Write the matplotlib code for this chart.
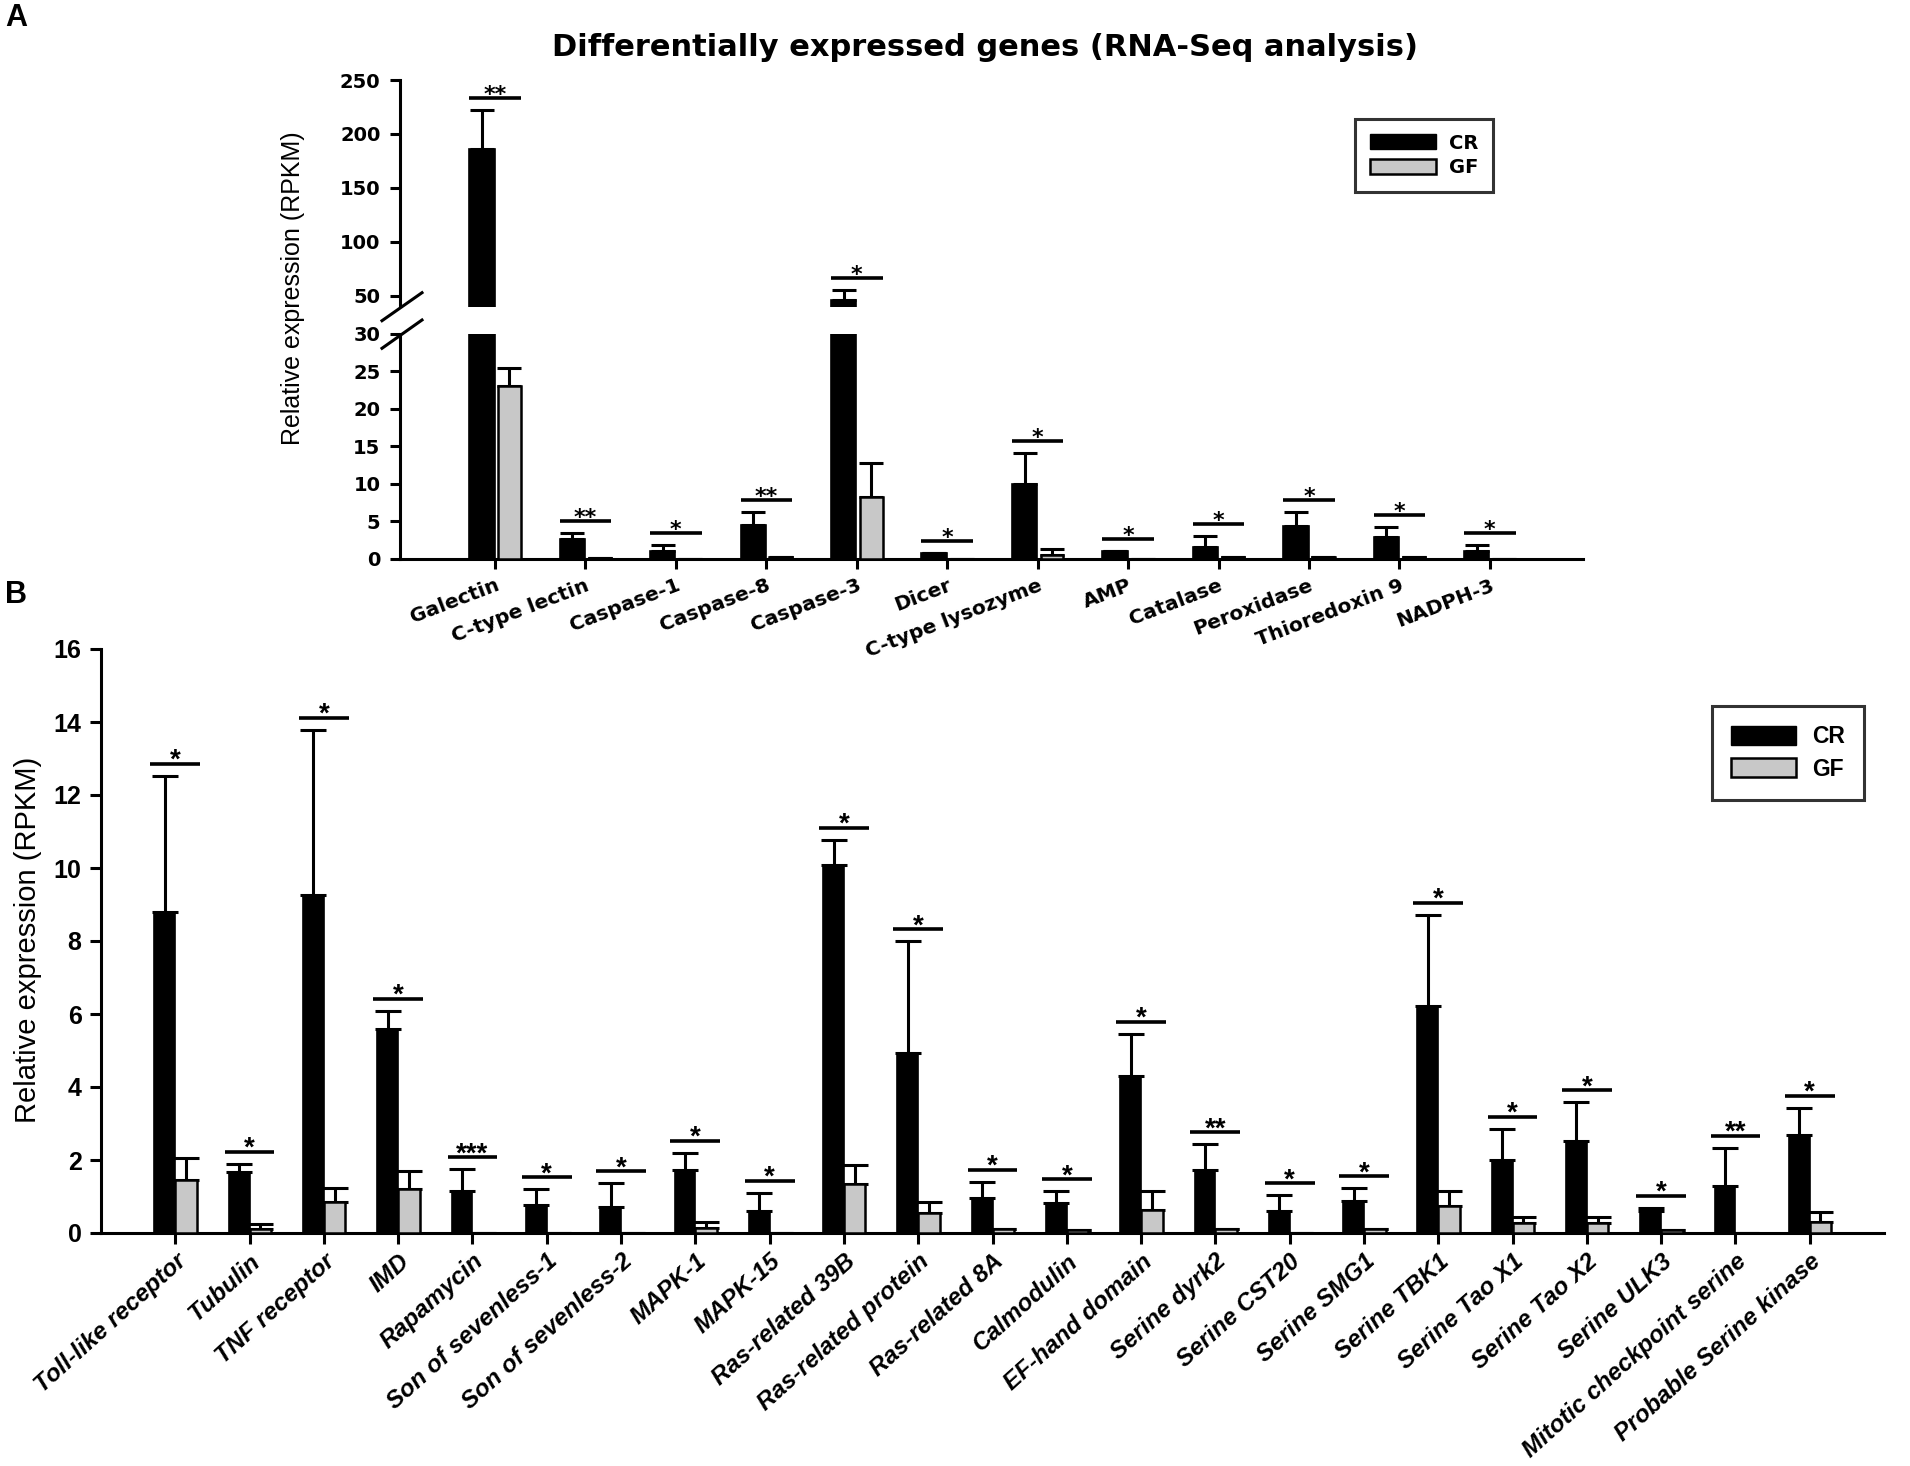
import numpy as np
import matplotlib.pyplot as plt
from matplotlib.lines import Line2D
from matplotlib.patches import Patch
from matplotlib import transforms

# Panel A data (RNA-Seq, RPKM)
genes_a = ['Galectin', 'C-type lectin', 'Caspase-1', 'Caspase-8', 'Caspase-3', 'Dicer',
           'C-type lysozyme', 'AMP', 'Catalase', 'Peroxidase', 'Thioredoxin 9', 'NADPH-3']
cr_a = [186, 2.6, 1.0, 4.5, 46, 0.8, 10.0, 1.0, 1.6, 4.4, 2.9, 1.1]
cr_err_a = [36, 0.9, 0.8, 1.7, 9, 0.0, 4.1, 0.0, 1.4, 1.8, 1.4, 0.7]
gf_a = [23.0, 0.1, 0.05, 0.2, 8.2, 0.03, 0.5, 0.0, 0.2, 0.3, 0.2, 0.05]
gf_err_a = [2.5, 0.0, 0.0, 0.0, 4.6, 0.0, 0.8, 0.0, 0.0, 0.0, 0.0, 0.0]
sig_a = ['**', '**', '*', '**', '*', '*', '*', '*', '*', '*', '*', '*']

# Panel B data
genes_b = ['Toll-like receptor', 'Tubulin', 'TNF receptor', 'IMD', 'Rapamycin',
           'Son of sevenless-1', 'Son of sevenless-2', 'MAPK-1', 'MAPK-15',
           'Ras-related 39B', 'Ras-related protein', 'Ras-related 8A', 'Calmodulin',
           'EF-hand domain', 'Serine dyrk2', 'Serine CST20', 'Serine SMG1', 'Serine TBK1',
           'Serine Tao X1', 'Serine Tao X2', 'Serine ULK3', 'Mitotic checkpoint serine',
           'Probable Serine kinase']
cr_b = [8.80, 1.67, 9.26, 5.59, 1.14, 0.78, 0.70, 1.72, 0.60, 10.09, 4.94, 0.97,
        0.83, 4.30, 1.73, 0.60, 0.88, 6.23, 2.01, 2.51, 0.60, 1.30, 2.68]
cr_err_b = [3.73, 0.23, 4.52, 0.49, 0.60, 0.42, 0.66, 0.47, 0.50, 0.69, 3.05, 0.43,
            0.31, 1.15, 0.70, 0.43, 0.34, 2.48, 0.84, 1.07, 0.09, 1.03, 0.75]
gf_b = [1.45, 0.10, 0.86, 1.20, 0.0, 0.0, 0.0, 0.15, 0.0, 1.33, 0.55, 0.12,
        0.08, 0.64, 0.12, 0.0, 0.10, 0.73, 0.27, 0.27, 0.08, 0.0, 0.30]
gf_err_b = [0.61, 0.15, 0.37, 0.50, 0.0, 0.0, 0.0, 0.15, 0.0, 0.52, 0.30, 0.0,
            0.0, 0.52, 0.0, 0.0, 0.0, 0.43, 0.18, 0.18, 0.0, 0.0, 0.28]
sig_b = ['*', '*', '*', '*', '***', '*', '*', '*', '*', '*', '*', '*', '*', '*',
         '**', '*', '*', '*', '*', '*', '*', '**', '*']

W, H = 1910, 1466
fig = plt.figure(figsize=(W / 100, H / 100), dpi=100)


def box(x0, y0, x1, y1):
    # pixel box (top-left origin) -> figure fraction rect
    return [x0 / W, 1 - y1 / H, (x1 - x0) / W, (y1 - y0) / H]


GREY = '#c8c8c8'
LW = 2.2
ARIAL = 'Liberation Sans'
WIDE = 'DejaVu Sans'


def draw_bars(ax, x, cr, cre, gf, gfe, cr_off, cr_w, gf_off, gf_w, cap):
    ax.bar(x + cr_off, cr, width=cr_w, align='edge', color='black', edgecolor='black',
           linewidth=1.2, zorder=3)
    ax.bar(x + gf_off, gf, width=gf_w, align='edge', color=GREY, edgecolor='black',
           linewidth=1.8, zorder=3)
    zeros = np.zeros(len(x))
    ax.errorbar(x + cr_off + cr_w / 2, cr, yerr=[zeros, cre], fmt='none', ecolor='black',
                elinewidth=LW, capsize=cap, capthick=LW, zorder=2)
    ax.errorbar(x + gf_off + gf_w / 2, gf, yerr=[zeros, gfe], fmt='none', ecolor='black',
                elinewidth=LW, capsize=cap, capthick=LW, zorder=2)


def draw_sig(ax, xc, top, label, half, star_font, star_size, star_drop):
    line_tr = transforms.offset_copy(ax.transData, fig=fig, y=12, units='dots')
    ax.plot([xc - half, xc + half], [top, top], color='black', lw=LW + 0.4,
            transform=line_tr, clip_on=False, solid_capstyle='butt')
    txt_tr = transforms.offset_copy(ax.transData, fig=fig, y=12 - star_drop, units='dots')
    ax.text(xc, top, label, ha='center', va='baseline', fontsize=star_size,
            fontweight='bold', family=star_font, transform=txt_tr, clip_on=False)


# ---------------- Panel A (broken axis) ----------------
xa = np.arange(len(genes_a))
ax_lo = fig.add_axes(box(400, 334, 1583, 559))
ax_hi = fig.add_axes(box(400, 80, 1583, 306.5))

for ax in (ax_lo, ax_hi):
    ax.patch.set_visible(False)
    draw_bars(ax, xa, np.array(cr_a), np.array(cr_err_a), np.array(gf_a),
              np.array(gf_err_a), -0.285, 0.28, 0.035, 0.25, 8.3)
    ax.set_xlim(-1.05, len(genes_a) - 1 + 1.03)
    ax.spines['top'].set_visible(False)
    ax.spines['right'].set_visible(False)
    ax.spines['left'].set_linewidth(LW)
    ax.spines['bottom'].set_linewidth(LW)
    ax.tick_params(axis='y', direction='out', length=7, width=LW, pad=7)

ax_lo.set_ylim(0, 30)
ax_lo.set_yticks(np.arange(0, 31, 5))
ax_hi.set_ylim(40, 250)
ax_hi.set_yticks(np.arange(50, 251, 50))
for ax in (ax_lo, ax_hi):
    ax.set_yticklabels([str(v) for v in ax.get_yticks().astype(int)],
                       family=WIDE, fontweight='bold', fontsize=14)
ax_hi.spines['bottom'].set_visible(False)
ax_hi.set_xticks([])
ax_lo.set_xticks(xa)
ax_lo.tick_params(axis='x', direction='out', length=7, width=LW, pad=5)
ax_lo.set_xticklabels(genes_a, rotation=21, ha='right', va='top', rotation_mode='anchor',
                      family=WIDE, fontweight='bold', fontsize=14.5)

for i in range(len(genes_a)):
    top = max(cr_a[i] + cr_err_a[i], gf_a[i] + gf_err_a[i])
    ax = ax_hi if top > 30 else ax_lo
    draw_sig(ax, xa[i], top, sig_a[i], 0.285, WIDE, 16, 3)

# break marks on the y axis
for y0, y1 in ((320.7, 292.7), (348.3, 320.0)):
    fig.add_artist(Line2D([382 / W, 422 / W], [1 - y0 / H, 1 - y1 / H], color='black',
                          lw=LW, transform=fig.transFigure))

fig.text(293 / W, 1 - 288 / H, 'Relative expression (RPKM)', rotation=90, ha='center',
         va='center', family=ARIAL, fontsize=18)
fig.text(985 / W, 1 - 48 / H, 'Differentially expressed genes (RNA-Seq analysis)',
         ha='center', va='center', family=WIDE, fontweight='bold', fontsize=22)

handles = [Patch(facecolor='black', edgecolor='black', label='CR'),
           Patch(facecolor=GREY, edgecolor='black', linewidth=1.8, label='GF')]
leg_a = fig.legend(handles=handles, loc='upper left', bbox_to_anchor=(1355 / W, 1 - 119 / H),
                   borderaxespad=0, frameon=True, fancybox=False, edgecolor='black',
                   handlelength=3.4, handleheight=0.8, borderpad=0.75, labelspacing=0.3,
                   handletextpad=0.7, prop={'family': WIDE, 'weight': 'bold', 'size': 14})
leg_a.get_frame().set_linewidth(LW)

# ---------------- Panel B ----------------
xb = np.arange(len(genes_b))
ax_b = fig.add_axes(box(101, 649, 1884, 1233))
ax_b.patch.set_visible(False)
draw_bars(ax_b, xb, np.array(cr_b), np.array(cr_err_b), np.array(gf_b),
          np.array(gf_err_b), -0.28, 0.28, 0.0, 0.29, 9.4)
ax_b.set_xlim(-1.0, len(genes_b))
ax_b.set_ylim(0, 16)
ax_b.set_yticks(np.arange(0, 17, 2))
ax_b.set_yticklabels([str(v) for v in range(0, 17, 2)], family=ARIAL, fontweight='bold',
                     fontsize=18)
ax_b.spines['top'].set_visible(False)
ax_b.spines['right'].set_visible(False)
ax_b.spines['left'].set_linewidth(LW)
ax_b.spines['bottom'].set_linewidth(LW)
ax_b.tick_params(axis='y', direction='out', length=8, width=LW, pad=6)
ax_b.tick_params(axis='x', direction='out', length=8, width=LW, pad=4)
ax_b.set_xticks(xb)
ax_b.set_xticklabels(genes_b, rotation=42, ha='right', va='top', rotation_mode='anchor',
                     family=ARIAL, fontweight='bold', style='italic', fontsize=17.5)

for i in range(len(genes_b)):
    top = max(cr_b[i] + cr_err_b[i], gf_b[i] + gf_err_b[i])
    draw_sig(ax_b, xb[i], top, sig_b[i], 0.335, ARIAL, 20, 4)

fig.text(28 / W, 1 - 940 / H, 'Relative expression (RPKM)', rotation=90, ha='center',
         va='center', family=ARIAL, fontsize=21)

leg_b = fig.legend(handles=handles, loc='upper left', bbox_to_anchor=(1712 / W, 1 - 706 / H),
                   borderaxespad=0, frameon=True, fancybox=False, edgecolor='black',
                   handlelength=2.8, handleheight=0.9, borderpad=0.85, labelspacing=0.4,
                   handletextpad=0.7, prop={'family': ARIAL, 'weight': 'bold', 'size': 16.5})
leg_b.get_frame().set_linewidth(LW)

fig.text(5 / W, 1 - 18 / H, 'A', ha='left', va='center', family=ARIAL, fontweight='bold',
         fontsize=22)
fig.text(5 / W, 1 - 595 / H, 'B', ha='left', va='center', family=ARIAL, fontweight='bold',
         fontsize=22)

fig.savefig('out.png', dpi=100, facecolor='white')
